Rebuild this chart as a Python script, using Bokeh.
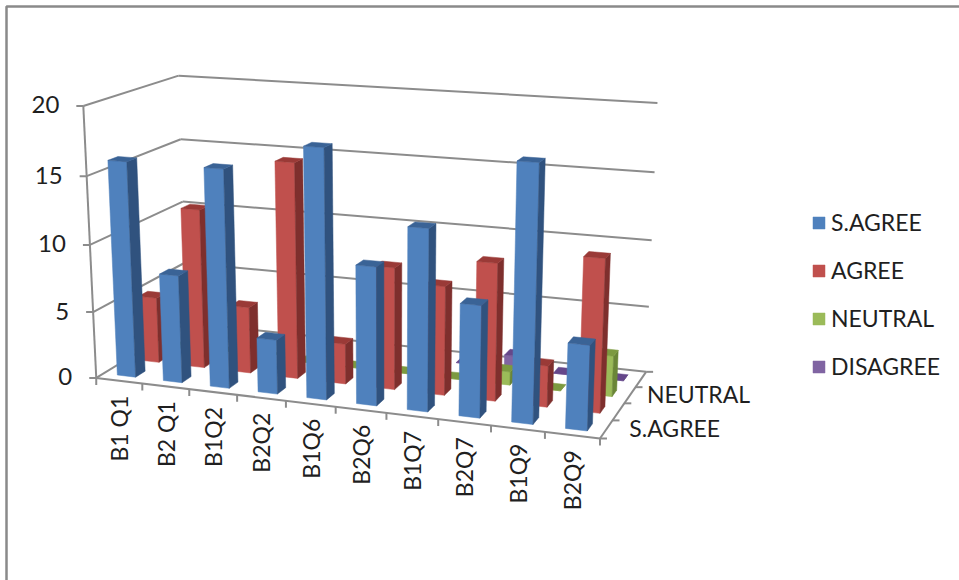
import numpy as np
from bokeh.embed import file_html
from bokeh.resources import INLINE
from bokeh.plotting import figure
from bokeh.models import Range1d, Legend, LegendItem, ColumnDataSource
from bokeh.core.properties import value

categories = ["B1 Q1", "B2 Q1", "B1Q2", "B2Q2", "B1Q6", "B2Q6", "B1Q7", "B2Q7", "B1Q9", "B2Q9"]
series_names = ["S.AGREE", "AGREE", "NEUTRAL", "DISAGREE"]
s_agree = [16, 8, 16, 4, 18, 10, 13, 8, 18, 6]
agree = [5, 12, 5, 16, 3, 9, 8, 10, 3, 11]
neutral = [0, 0, 0, 0, 0, 0, 0, 1, 0, 3]
disagree = [None, None, None, None, None, None, 0, 1, 0, 0]
y_ticks = [0, 5, 10, 15, 20]
depth_labels = ["S.AGREE", "NEUTRAL"]

series_values = [s_agree, agree, neutral, disagree]
front_colors = ["#4F81BD", "#C0504D", "#9BBB59", "#8064A2"]
side_colors = ["#30527E", "#7E2F2D", "#6A8637", "#54396F"]
top_colors = ["#3A6396", "#9A3A37", "#7C9A40", "#65478A"]

GRID = "#8C8C8C"
TEXT = "#1F1F1F"
FONT = "Lato"
N_CAT, N_ROW, V_MAX = len(categories), len(series_names), 20


# Camera fit: corners of the chart's 3D box (cat, row, value) -> page position.
corners = [
    ((0, 0, 0), (96, 376)), ((10, 0, 0), (599, 440)), ((10, 4, 0), (646, 369)),
    ((0, 4, 0), (186, 324)), ((0, 0, 20), (83, 105)), ((0, 4, 20), (178, 75)),
    ((10, 4, 20), (657, 103)),
]
rows = []
for (u, v, w), (px, py) in corners:
    X = [u / 10, v / 4, w / 20, 1.0]
    sx, sy = px / 1000, py / 1000
    rows.append(X + [0, 0, 0, 0] + [-sx * c for c in X])
    rows.append([0, 0, 0, 0] + X + [-sy * c for c in X])
P = np.linalg.svd(np.array(rows))[2][-1].reshape(3, 4)


def proj(u, v, w):
    h = P @ np.array([u / 10, v / 4, w / 20, 1.0])
    return h[0] / h[2] * 1000, h[1] / h[2] * 1000


WIDTH, HEIGHT = 959, 580
p = figure(width=WIDTH, height=HEIGHT, output_backend="svg", toolbar_location=None,
           x_range=Range1d(0, WIDTH), y_range=Range1d(HEIGHT, 0),
           min_border=0, x_axis_type=None, y_axis_type=None,
           background_fill_color="white", border_fill_color=None, outline_line_color=None)
p.grid.visible = False

# Picture frame
p.line(x=[6, 6, WIDTH], y=[HEIGHT, 6, 6], line_color="#8A8A8A", line_width=2.5)


def seg(a, b):
    pa, pb = proj(*a), proj(*b)
    return [pa[0], pb[0]], [pa[1], pb[1]]


xs, ys = [], []
for t in y_ticks:
    for a, b in (((0, 0, t), (0, 4, t)), ((0, 4, t), (10, 4, t))):
        x, y = seg(a, b)
        xs.append(x)
        ys.append(y)
    f = proj(0, 0, t)
    xs.append([f[0] - 7, f[0]])
    ys.append([f[1], f[1]])
for a, b in (((0, 0, 0), (0, 0, 20)), ((0, 0, 0), (10, 0, 0)), ((10, 0, 0), (10, 4, 0))):
    x, y = seg(a, b)
    xs.append(x)
    ys.append(y)
for i in range(N_CAT + 1):
    f = proj(i, 0, 0)
    xs.append([f[0], f[0]])
    ys.append([f[1], f[1] + 7])
for r in range(N_ROW + 1):
    f = proj(10, r, 0)
    xs.append([f[0], f[0] + 7])
    ys.append([f[1], f[1]])
p.multi_line(xs=xs, ys=ys, line_color=GRID, line_width=2)

# Bars, painted from the back row to the front one, left to right in each row
BAR = 0.4
renderers = {}
for s in range(N_ROW - 1, -1, -1):
    fx, fy, fc = [], [], []
    for i, val in enumerate(series_values[s]):
        if val is None:
            continue
        u0, u1 = i + 0.5 - BAR / 2, i + 0.5 + BAR / 2
        v0, v1 = s + 0.5 - BAR / 2, s + 0.5 + BAR / 2
        faces = [
            ([(u0, v0, 0), (u1, v0, 0), (u1, v0, val), (u0, v0, val)], front_colors[s]),
            ([(u1, v0, 0), (u1, v1, 0), (u1, v1, val), (u1, v0, val)], side_colors[s]),
            ([(u0, v0, val), (u1, v0, val), (u1, v1, val), (u0, v1, val)], top_colors[s]),
        ]
        for pts, col in faces:
            q = [proj(*c) for c in pts]
            fx.append([a[0] for a in q])
            fy.append([a[1] for a in q])
            fc.append(col)
    src = ColumnDataSource(dict(xs=fx, ys=fy, color=fc))
    renderers[s] = p.patches("xs", "ys", source=src, fill_color="color", line_color="color", line_width=0.5)

legend = Legend(
    items=[LegendItem(label=series_names[s], renderers=[renderers[s]], index=0) for s in range(N_ROW)],
    location=(811, HEIGHT - 380), orientation="vertical",
    background_fill_alpha=0, border_line_color=None, margin=0, padding=0,
    glyph_width=15, glyph_height=15, label_standoff=5, spacing=20,
    label_text_font=FONT, label_text_font_size="23px", label_text_color=TEXT,
    label_height=28, label_text_baseline="middle",
)
p.add_layout(legend)

# Axis texts follow the oblique axes
tx = [proj(0, 0, t)[0] - 24 for t in y_ticks]
ty = [proj(0, 0, t)[1] - 1 for t in y_ticks]
p.text(x=tx, y=ty, text=[str(t) for t in y_ticks], text_font=value(FONT), text_font_size="24px",
       text_color=TEXT, text_align="right", text_baseline="middle")

cx = [proj(i + 0.5, 0, 0)[0] for i in range(N_CAT)]
cy = [proj(i + 0.5, 0, 0)[1] + 15 for i in range(N_CAT)]
p.text(x=cx, y=cy, text=categories, text_font=value(FONT), text_font_size="23px", text_color=TEXT,
       angle=np.pi / 2, text_align="right", text_baseline="middle")

dx = [proj(10, r, 0)[0] + 20 + (1.5 - r) * 3 for r in (0.5, 2.5)]
dy = [proj(10, r, 0)[1] - 1 for r in (0.5, 2.5)]
p.text(x=dx, y=dy, text=depth_labels, text_font=value(FONT), text_font_size="23px", text_color=TEXT,
       text_align="left", text_baseline="middle")

open("out.html", "w").write(file_html(p, INLINE))
